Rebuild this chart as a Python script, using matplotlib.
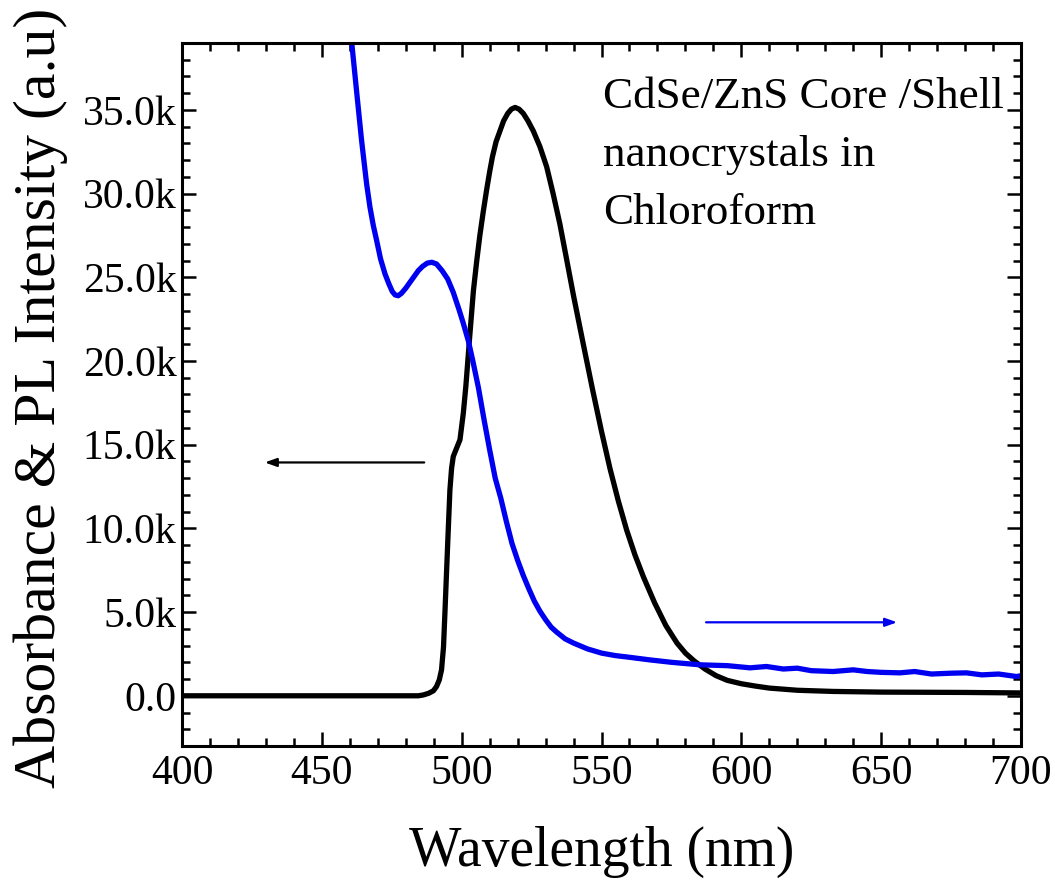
import matplotlib
matplotlib.use("Agg")
import matplotlib.pyplot as plt
from matplotlib.ticker import MultipleLocator, FuncFormatter

plt.rcParams['font.family'] = ['Liberation Serif', 'DejaVu Serif']

# Photoluminescence (black) : wavelength (nm), intensity (k)
pl_wl = [400, 420, 440, 460, 480, 484.5, 486.3, 488.2, 489.9, 491.0, 492.0, 492.8, 493.5, 494.0,
         494.5, 495.2, 495.8, 496.4, 497.0, 498.2, 499.4, 500.6, 501.5, 502.8, 504.2, 505.4,
         506.5, 507.7, 508.9, 510.0, 511.0, 512.3, 513.7, 515.0, 516.5, 517.8, 519.1, 520.5,
         522.0, 523.7, 525.6, 528.0, 530.4, 532.7, 535.1, 537.5, 540.0, 543.5, 546.8, 550.0,
         553.0, 556.0, 559.0, 562.0, 565.0, 569.0, 573.0, 577.0, 580.0, 583.0, 587.0, 591.0,
         595.0, 600.0, 605.0, 610.0, 620.0, 632.8, 650.0, 680.0, 700.0]
pl_val = [0.0, 0.0, 0.0, 0.0, 0.0, 0.0, 0.05, 0.15, 0.3, 0.55, 0.95, 1.55, 2.9, 4.9,
          7.0, 9.9, 12.3, 13.6, 14.3, 14.8, 15.3, 16.9, 18.5, 21.3, 24.2, 26.0,
          27.5, 28.9, 30.2, 31.3, 32.2, 33.1, 33.75, 34.35, 34.8, 35.05, 35.15, 35.05,
          34.8, 34.35, 33.75, 32.8, 31.6, 30.0, 28.2, 26.1, 23.9, 21.0, 18.3, 15.8,
          13.6, 11.65, 9.9, 8.4, 7.1, 5.55, 4.2, 3.15, 2.55, 2.1, 1.6, 1.2,
          0.92, 0.72, 0.58, 0.46, 0.33, 0.26, 0.22, 0.2, 0.17]

# Absorbance (blue) : wavelength (nm), intensity (k)
abs_wl = [459, 460.7, 462.5, 464.2, 466.0, 467.2, 468.4, 469.6, 471.0, 472.6, 474.0, 475.2,
          476.2, 477.3, 478.5, 480.0, 481.5, 483.0, 484.5, 486.0, 487.7, 489.3, 491.0, 493.0,
          495.0, 497.0, 499.0, 500.5, 502.4, 504.0, 506.0, 508.0, 510.0, 512.0, 514.0, 516.0,
          518.0, 520.0, 522.0, 524.0, 526.0, 528.0, 530.0, 532.0, 534.0, 537.0, 540.0, 545.0,
          550.0, 555.0, 560.0, 567.0, 575.0, 585.2, 595.0, 603.1, 609.0, 615.0, 620.0, 625.0,
          632.8, 640.0, 645.0, 650.0, 656.7, 662.0, 668.0, 675.0, 680.5, 686.0, 692.0, 698.4, 700.0]
abs_val = [42.0, 39.0, 36.0, 33.2, 30.6, 29.2, 28.1, 27.2, 26.1, 25.2, 24.6, 24.15,
           23.95, 23.9, 24.05, 24.35, 24.7, 25.05, 25.4, 25.65, 25.85, 25.9, 25.8, 25.4,
           24.9, 24.1, 23.1, 22.3, 21.2, 20.0, 18.4, 16.5, 14.7, 13.0, 11.8, 10.4,
           9.1, 8.1, 7.2, 6.4, 5.65, 5.05, 4.55, 4.1, 3.8, 3.4, 3.15, 2.8,
           2.55, 2.4, 2.3, 2.15, 2.0, 1.85, 1.8, 1.67, 1.75, 1.6, 1.65, 1.5,
           1.45, 1.55, 1.45, 1.4, 1.37, 1.45, 1.3, 1.35, 1.37, 1.25, 1.3, 1.15, 1.2]

annot_lines = ["CdSe/ZnS Core /Shell", "nanocrystals in", "Chloroform"]


def kfmt(v, p):
    if abs(v) < 1e-9:
        return "0.0"
    return f"{v/1000:.1f}k"


fig = plt.figure(figsize=(10.55, 8.88), dpi=100)
ax = fig.add_axes([182/1055, 1-746/888, (1021-182)/1055, (746-43)/888])

ax.plot(pl_wl, [v*1000 for v in pl_val], color='black', lw=3.8,
        solid_joinstyle='round', solid_capstyle='round')
ax.plot(abs_wl, [v*1000 for v in abs_val], color='#0000f0', lw=3.8,
        solid_joinstyle='round', solid_capstyle='round')

ax.set_xlim(400, 700)
ax.set_ylim(-3000, 39000)
ax.xaxis.set_major_locator(MultipleLocator(50))
ax.xaxis.set_minor_locator(MultipleLocator(10))
ax.yaxis.set_major_locator(MultipleLocator(5000))
ax.yaxis.set_minor_locator(MultipleLocator(1000))
ax.yaxis.set_major_formatter(FuncFormatter(kfmt))

ax.tick_params(which='both', direction='in', top=True, right=True, width=1.8, labelsize=30)
ax.tick_params(which='major', length=10)
ax.tick_params(which='minor', length=6)
ax.tick_params(axis='x', pad=6)
ax.tick_params(axis='y', pad=4)
for s in ax.spines.values():
    s.set_linewidth(2.2)

# arrows
ax.annotate('', xy=(428.6, 13940), xytext=(487.6, 13940),
            arrowprops=dict(arrowstyle='-|>,head_length=0.7,head_width=0.25', color='black', lw=1.6))
ax.annotate('', xy=(656.7, 4390), xytext=(586.4, 4390),
            arrowprops=dict(arrowstyle='-|>,head_length=0.7,head_width=0.25', color='#0000f0', lw=1.6))

for t, yv in zip(annot_lines, [35140, 31660, 28190]):
    ax.text(550.5, yv, t, fontsize=32.5, va='baseline', ha='left')

fig.text(602/1055, 1-866/888, "Wavelength (nm)", fontsize=40, ha='center', va='baseline')
fig.text(55/1055, 1-398/888, "Absorbance & PL Intensity (a.u)", fontsize=43, rotation=90,
         ha='center', va='baseline', rotation_mode='anchor')

fig.savefig("out.png", dpi=100)
